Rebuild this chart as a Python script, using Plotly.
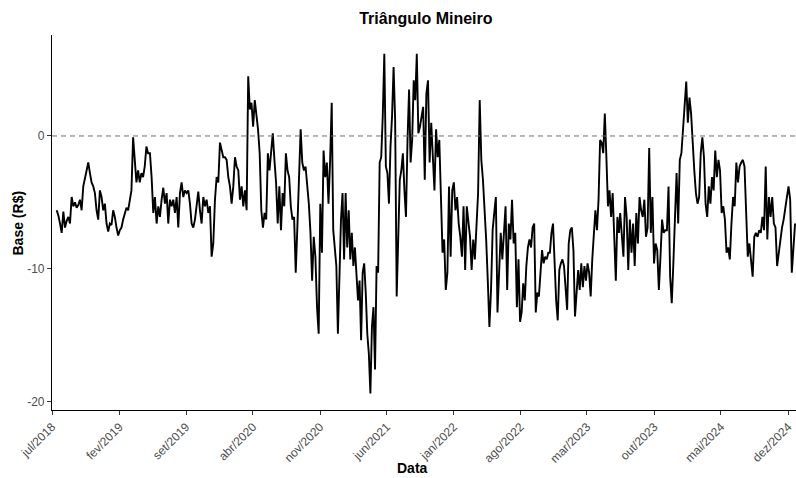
import pandas as pd
import plotly.graph_objects as go

# ---- data, split into stretches of the series ----
seg1_range = ("2018-07-16", "2019-05-03")
seg1_vals = [-5.6, -6.0, -6.6, -7.3, -5.7, -6.9, -6.4, -6.1, -6.6, -4.6, -5.3, -5.0, -5.4, -5.2,
             -4.8, -5.6, -3.8, -3.2, -2.8, -2.0, -2.8, -3.5, -3.8, -4.3, -5.6, -6.3, -4.1, -4.6,
             -5.6, -5.1, -6.6, -7.2, -6.6, -6.7, -5.6, -6.1, -6.9, -7.5, -7.1, -6.9, -6.3, -5.8,
             -5.4, -5.6, -4.8, -4.1, -0.1, -1.8, -3.5, -2.6, -3.5, -2.8, -3.1, -2.3, -0.8, -1.3]

seg2_range = ("2019-05-09", "2020-03-12")
seg2_vals = [-1.3, -3.1, -5.8, -4.6, -6.6, -5.3, -6.1, -4.8, -3.9, -5.1, -4.3, -6.6, -4.8, -5.3,
             -4.8, -5.8, -4.6, -6.9, -4.3, -3.5, -4.6, -4.1, -4.3, -4.1, -5.1, -6.6, -6.9, -6.3,
             -5.3, -4.2, -5.6, -6.6, -4.6, -5.3, -4.8, -5.8, -5.3, -9.1, -8.1, -4.8, -3.1, -3.5,
             -0.5, -1.1, -1.6, -1.6, -1.8, -3.1, -3.8, -5.1, -3.8, -1.6, -2.3, -2.6, -4.8, -3.8,
             -5.3, -4.1, -5.6]

seg3_range = ("2020-03-17", "2020-12-03")
seg3_vals = [4.5, 2.0, 2.5, 0.7, 2.7, 1.7, 0.5, -1.3, -5.6, -6.9, -5.8, -6.3, -1.3, -2.6, -1.1,
             0.2, -1.8, -3.5, -6.6, -3.8, -7.1, -4.3, -5.3, -1.3, -2.6, -3.1, -5.3, -6.3, -6.1,
             -10.3, -6.9, -2.3, 0.5, -2.0, -2.6, -2.3, -3.5, -5.1, -7.3, -10.9, -7.6, -9.1, -12.9,
             -14.9, -5.1, -8.8, -1.1, -3.1, -2.0, -5.1, -1.8]

seg4_range = ("2020-12-08", "2021-09-10")
seg4_vals = [2.5, -7.1, -8.8, -9.8, -14.9, -10.9, -6.3, -4.3, -9.3, -4.3, -8.4, -5.6, -9.3, -7.3,
             -9.8, -8.4, -10.3, -12.4, -10.9, -15.4, -10.3, -9.6, -11.8, -14.9, -16.4, -19.4,
             -14.4, -12.9, -17.6, -9.8, -10.3, -2.0, -1.6, 1.5, 6.2, -2.3, -2.8, -5.1, -0.8, 1.5,
             5.2, 1.2, -12.1, -7.1, -3.3, -2.6, -1.3, -4.1, -6.1, -0.3, 3.5, -2.0, -0.3, 4.2, 2.7,
             6.2, 0.2]

seg5_range = ("2021-09-15", "2022-07-26")
seg5_vals = [0.7, 1.5, 2.2, -3.3, 3.2, 4.2, -2.0, 1.0, -1.3, -4.1, 0.5, -1.6, -0.3, -5.8, -8.8,
             -7.8, -11.6, -10.3, -3.8, -9.1, -4.1, -3.5, -5.6, -4.6, -6.6, -7.6, -9.1, -5.3,
             -10.1, -5.3, -6.3, -7.6, -10.1, -7.8, -9.3, -7.1, -4.3, 2.7, -1.8, -3.3, -5.3, -7.8,
             -10.9, -14.4, -11.6, -7.1, -5.8, -4.6, -13.3, -10.1, -7.3, -9.3, -6.9, -5.3, -11.6,
             -6.6, -7.8, -4.8, -8.1, -7.3, -12.9, -9.3]

seg6_range = ("2022-07-31", "2023-06-11")
seg6_vals = [-14.0, -13.3, -11.1, -12.4, -9.8, -8.4, -7.8, -8.4, -6.9, -6.6, -13.3, -11.8, -12.1,
             -10.3, -8.6, -9.6, -9.1, -9.3, -8.8, -8.8, -7.3, -6.6, -9.8, -12.4, -13.9, -10.1,
             -9.6, -9.3, -9.8, -11.4, -13.1, -8.1, -7.1, -6.9, -8.6, -13.6, -12.1, -10.1, -11.6,
             -9.6, -11.4, -9.8, -10.9, -9.6, -10.3, -12.1, -9.3, -7.8, -5.6, -7.1, -4.8, -0.3,
             -0.5, -1.3, 1.7, -1.6, -5.3, -4.1, -6.1, -4.3, -7.3, -10.9, -6.1, -7.3]

seg7_range = ("2023-06-15", "2024-04-23")
seg7_vals = [-5.8, -7.6, -9.1, -4.6, -6.1, -10.1, -6.3, -8.8, -6.6, -9.8, -5.8, -8.1, -4.6, -5.6,
             -6.1, -4.8, -7.6, -6.9, -0.9, -7.3, -4.6, -9.6, -8.1, -8.6, -11.6, -9.1, -6.3, -7.3,
             -7.1, -7.1, -3.8, -10.6, -12.6, -9.6, -6.1, -2.8, -6.6, -1.8, -1.3, 0.7, 2.9, 4.1,
             1.0, 2.9, 1.7, -0.8, -2.6, -4.3, -5.1, -4.6, -1.3, -0.1, -1.6, -5.1, -6.1, -3.8,
             -5.1, -3.1, -4.1, -1.1, -3.1, -1.8]

seg8_range = ("2024-04-28", "2024-12-23")
seg8_vals = [-2.6, -5.8, -5.3, -6.3, -8.8, -8.4, -9.3, -6.6, -4.6, -5.3, -2.0, -3.5, -2.3, -2.0,
             -1.8, -2.3, -6.1, -9.1, -8.1, -9.6, -10.6, -7.6, -7.3, -7.6, -7.1, -7.3, -6.1, -7.1,
             -2.3, -7.8, -4.6, -6.1, -4.6, -6.6, -6.9, -9.8, -8.8, -8.1, -6.9, -6.3, -5.3, -4.6,
             -3.8, -4.8, -10.3, -8.4, -6.6]

tick_dates = ["2018-07-01", "2019-02-01", "2019-09-01", "2020-04-01", "2020-11-01", "2021-06-01",
              "2022-01-01", "2022-08-01", "2023-03-01", "2023-10-01", "2024-05-01", "2024-12-01"]
tick_labels = ["jul/2018", "fev/2019", "set/2019", "abr/2020", "nov/2020", "jun/2021",
               "jan/2022", "ago/2022", "mar/2023", "out/2023", "mai/2024", "dez/2024"]
y_ticks = [-20, -10, 0]
y_tick_labels = ["-20", "-10", "0"]

segments = [(seg1_range, seg1_vals), (seg2_range, seg2_vals), (seg3_range, seg3_vals),
            (seg4_range, seg4_vals), (seg5_range, seg5_vals), (seg6_range, seg6_vals),
            (seg7_range, seg7_vals), (seg8_range, seg8_vals)]

dates, values = [], []
for (start, end), vals in segments:
    dates.extend(pd.date_range(start, end, periods=len(vals)))
    values.extend(vals)

FONT = "Liberation Sans, Arial, sans-serif"

fig = go.Figure()
fig.add_trace(go.Scatter(x=dates, y=values, mode="lines",
                         line=dict(color="black", width=1.9), showlegend=False))
fig.add_hline(y=0, line=dict(color="#707070", width=1, dash="5px,4px"))

fig.update_layout(
    width=796, height=478,
    margin=dict(l=52, r=0, t=35, b=68),
    paper_bgcolor="white", plot_bgcolor="white",
    font=dict(family=FONT, color="#4d4d4d", size=12),
    title=dict(text="Triângulo Mineiro", x=0.535, xanchor="center", y=0.962, yanchor="middle",
               font=dict(family=FONT, size=16, color="black", weight="bold")),
    annotations=[
        dict(text="Data", xref="paper", yref="paper", x=0.485, y=-0.155,
             xanchor="center", yanchor="middle", showarrow=False,
             font=dict(family=FONT, size=14, color="black", weight="bold")),
        dict(text="Base (R$)", xref="paper", yref="paper", x=-0.0457, y=0.5,
             xanchor="center", yanchor="middle", showarrow=False, textangle=-90,
             font=dict(family=FONT, size=14, color="black", weight="bold")),
    ],
)
fig.update_xaxes(
    range=["2018-07-01", "2024-12-26"], automargin=False,
    tickvals=tick_dates, ticktext=tick_labels, tickangle=-45,
    showline=True, linecolor="black", linewidth=1.2, mirror=False,
    ticks="outside", ticklen=4, tickcolor="#333333", tickwidth=1,
    showgrid=False, zeroline=False,
    tickfont=dict(family=FONT, size=12, color="#4d4d4d"),
)
fig.update_yaxes(
    range=[-20.65, 7.61], automargin=False,
    tickvals=y_ticks, ticktext=y_tick_labels,
    showline=True, linecolor="black", linewidth=1.2,
    ticks="outside", ticklen=4, tickcolor="#333333", tickwidth=1,
    showgrid=False, zeroline=False,
    tickfont=dict(family=FONT, size=12, color="#4d4d4d"),
)

fig.write_html("out.html", config={"displayModeBar": False},
               post_script="document.body.style.margin='0px';document.body.style.overflow='hidden';")
